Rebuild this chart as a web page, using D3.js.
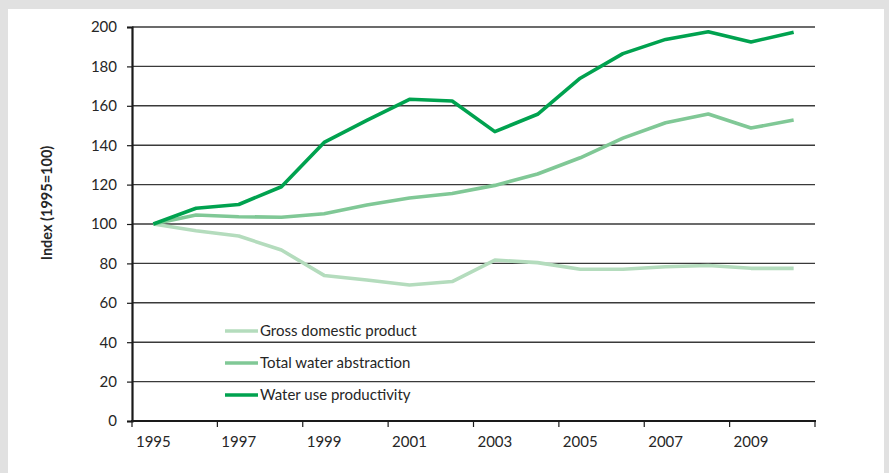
<!DOCTYPE html>
<html>
<head>
<meta charset="utf-8">
<script src="https://cdn.jsdelivr.net/npm/d3@7"></script>
<style>
html,body{margin:0;padding:0;background:#fff;}
svg{display:block;font-family:Lato,"Open Sans",sans-serif;}
</style>
</head>
<body>
<svg id="chart" width="889" height="473"></svg>
<script>
const years = [1995,1996,1997,1998,1999,2000,2001,2002,2003,2004,2005,2006,2007,2008,2009,2010];
const gdp = [100,96.6,93.9,86.8,73.9,71.6,69,70.8,81.7,80.4,77,77,78.3,78.9,77.5,77.5];
const abstraction = [100,104.6,103.7,103.4,105.2,109.6,113.2,115.5,119.6,125.4,133.6,143.6,151.4,155.8,148.7,152.8];
const productivity = [100,108,109.9,118.9,141.4,152.6,163.3,162.4,146.9,155.7,174,186.5,193.7,197.6,192.4,197.3];
const yTicks = [0,20,40,60,80,100,120,140,160,180,200];
const xLabels = [1995,1997,1999,2001,2003,2005,2007,2009];
const seriesNames = ["Gross domestic product","Total water abstraction","Water use productivity"];
const seriesColors = ["#b4dcbd","#80c896","#00a24f"];
const yTitle = "Index (1995=100)";

(function(){
const svg = d3.select("#chart");
const W = 889, H = 473;
svg.append("rect").attr("x",0).attr("y",0).attr("width",W).attr("height",H).attr("fill","#e1e1e1");
svg.append("rect").attr("x",8).attr("y",9).attr("width",876).attr("height",H).attr("fill","#fff");

const mL = 132, mR = 815, mT = 27, mB = 421;
const x = d3.scaleBand().domain(years).range([mL,mR]).padding(0);
const y = d3.scaleLinear().domain([0,200]).range([mB,mT]);
const cx = d => x(d) + x.bandwidth()/2;

svg.append("g").selectAll("line").data(yTicks.filter(t=>t>0)).join("line")
  .attr("x1",mL).attr("x2",mR)
  .attr("y1",d=>y(d)).attr("y2",d=>y(d))
  .attr("stroke","#3a3a3a").attr("stroke-width",1.4);

const yAxis = svg.append("g").attr("transform",`translate(${mL},0)`)
  .call(d3.axisLeft(y).tickValues(yTicks).tickSize(5).tickPadding(10));
yAxis.select(".domain").attr("stroke","#1a1a1a").attr("stroke-width",2.2);
yAxis.selectAll(".tick line").attr("stroke","#1a1a1a").attr("stroke-width",1.2);
yAxis.selectAll("text").attr("font-size",15).attr("fill","#262626").attr("font-family","Lato,sans-serif");

const xg = svg.append("g").attr("transform",`translate(0,${mB})`);
xg.append("line").attr("x1",mL-1).attr("x2",mR+1).attr("y1",0).attr("y2",0)
  .attr("stroke","#1a1a1a").attr("stroke-width",2.2);
const tickPos = years.filter((d,i)=>i%2===0).map(d=>x(d)).concat([mR]);
xg.selectAll("line.tk").data(tickPos).join("line").attr("class","tk")
  .attr("x1",d=>d).attr("x2",d=>d).attr("y1",0).attr("y2",6)
  .attr("stroke","#1a1a1a").attr("stroke-width",1.2);
xg.selectAll("text").data(xLabels).join("text")
  .attr("x",d=>cx(d)).attr("y",26).attr("text-anchor","middle")
  .attr("font-size",15).attr("fill","#262626").text(d=>d);

svg.append("text").attr("transform",`translate(52,${(mT+mB)/2 - 21}) rotate(-90)`)
  .attr("text-anchor","middle").attr("font-size",14.5).attr("font-weight","bold")
  .attr("fill","#262626").text(yTitle);

const allSeries = [gdp, abstraction, productivity];
const line = d3.line().x((d,i)=>cx(years[i])).y(d=>y(d));
allSeries.forEach((s,k)=>{
  svg.append("path").datum(s).attr("d",line).attr("fill","none")
    .attr("stroke",seriesColors[k]).attr("stroke-width",3.6)
    .attr("stroke-linejoin","round");
});

const leg = svg.append("g");
seriesNames.forEach((n,k)=>{
  const ly = 331 + k*32;
  leg.append("line").attr("x1",225).attr("x2",258).attr("y1",ly).attr("y2",ly)
    .attr("stroke",seriesColors[k]).attr("stroke-width",3.6);
  leg.append("text").attr("x",260).attr("y",ly).attr("dy","0.35em")
    .attr("font-size",15).attr("fill","#262626").text(n);
});
})();
</script>
</body>
</html>
